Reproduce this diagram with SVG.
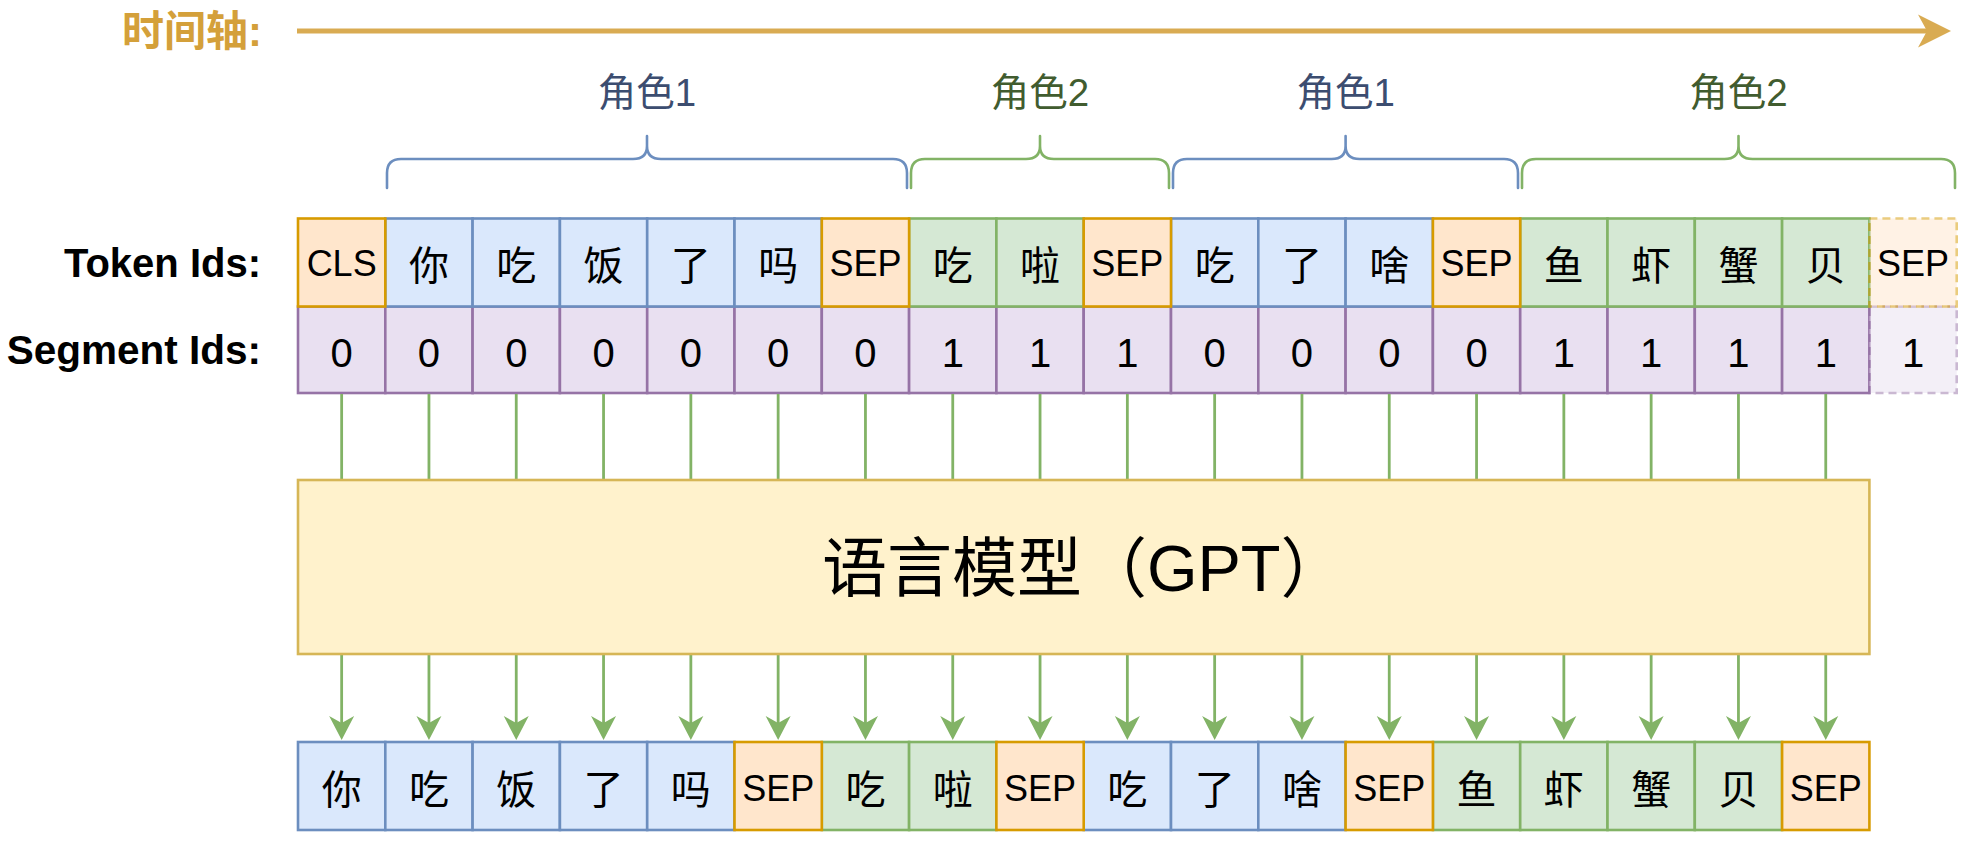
<svg xmlns="http://www.w3.org/2000/svg" width="1971" height="843" viewBox="0 0 1971 843">
<style>
text{font-family:'Liberation Sans','Noto Sans CJK SC',sans-serif;text-anchor:middle;fill:#000}
.b{fill:#dae8fc;stroke:#6c8ebf;stroke-width:2.6}
.g{fill:#d5e8d4;stroke:#82b366;stroke-width:2.6}
.o{fill:#ffe6cc;stroke:#d79b00;stroke-width:2.6}
.p{fill:#e9e0f1;stroke:#9673a6;stroke-width:2.6}
.dash{opacity:0.5}
.dash rect{stroke-dasharray:8 5}
.cj{font-size:40px}
.la{font-size:36px}
.dg{font-size:40px}
.lbl{font-size:40px;font-weight:bold;text-anchor:end}
.role{font-size:38.5px}
.br{fill:none;stroke-width:2.6;stroke-linecap:round}
.cn{stroke:#82b366;stroke-width:2.8;fill:none}
</style>
<defs>
<marker id="ah" markerUnits="userSpaceOnUse" markerWidth="25" markerHeight="26" viewBox="0 -13 25 26" refX="14" refY="0" orient="auto">
<path d="M24,0 L0,-12.5 L7,0 L0,12.5 Z" fill="#82b366"/>
</marker>
<marker id="tah" markerUnits="userSpaceOnUse" markerWidth="34" markerHeight="34" viewBox="0 -17 34 34" refX="17" refY="0" orient="auto">
<path d="M33,0 L0,-16.5 L9,0 L0,16.5 Z" fill="#d9ab52"/>
</marker>
</defs>

<g id="timeline">
<text x="262" y="46" style="font-size:42px;font-weight:bold;text-anchor:end;fill:#d4a03a">时间轴:</text>
<line x1="297" y1="31" x2="1935" y2="31" stroke="#d9ab52" stroke-width="5" marker-end="url(#tah)"/>
</g>

<g id="role-1a">
<text class="role" x="647" y="106" style="fill:#3c4d70">角色1</text>
<path class="br" stroke="#6c8ebf" d="M387,188 L387,173 Q387,159 401,159 L633,159 Q647,159 647,146 L647,136 M647,146 Q647,159 661,159 L893,159 Q907,159 907,173 L907,188"/>
</g>
<g id="role-2a">
<text class="role" x="1040" y="106" style="fill:#415c2f">角色2</text>
<path class="br" stroke="#82b366" d="M911,188 L911,173 Q911,159 925,159 L1026,159 Q1040,159 1040,146 L1040,136 M1040,146 Q1040,159 1054,159 L1155,159 Q1169,159 1169,173 L1169,188"/>
</g>
<g id="role-1b">
<text class="role" x="1345.6" y="106" style="fill:#3c4d70">角色1</text>
<path class="br" stroke="#6c8ebf" d="M1173,188 L1173,173 Q1173,159 1187,159 L1331.6,159 Q1345.6,159 1345.6,146 L1345.6,136 M1345.6,146 Q1345.6,159 1359.6,159 L1504,159 Q1518,159 1518,173 L1518,188"/>
</g>
<g id="role-2b">
<text class="role" x="1738.5" y="106" style="fill:#415c2f">角色2</text>
<path class="br" stroke="#82b366" d="M1522,188 L1522,173 Q1522,159 1536,159 L1724.5,159 Q1738.5,159 1738.5,146 L1738.5,136 M1738.5,146 Q1738.5,159 1752.5,159 L1941,159 Q1955,159 1955,173 L1955,188"/>
</g>

<g id="label-token"><text class="lbl" x="261" y="277">Token Ids:</text></g>
<g id="label-segment"><text class="lbl" x="261" y="364" style="font-size:40.5px">Segment Ids:</text></g>

<g id="segment-row">
<g id="seg-0"><rect class="p" x="298" y="306.5" width="87.3" height="86.5"/><text class="dg" x="341.65" y="366.5">0</text></g>
<g id="seg-1"><rect class="p" x="385.3" y="306.5" width="87.3" height="86.5"/><text class="dg" x="428.95" y="366.5">0</text></g>
<g id="seg-2"><rect class="p" x="472.6" y="306.5" width="87.3" height="86.5"/><text class="dg" x="516.25" y="366.5">0</text></g>
<g id="seg-3"><rect class="p" x="559.9" y="306.5" width="87.3" height="86.5"/><text class="dg" x="603.55" y="366.5">0</text></g>
<g id="seg-4"><rect class="p" x="647.2" y="306.5" width="87.3" height="86.5"/><text class="dg" x="690.85" y="366.5">0</text></g>
<g id="seg-5"><rect class="p" x="734.5" y="306.5" width="87.3" height="86.5"/><text class="dg" x="778.15" y="366.5">0</text></g>
<g id="seg-6"><rect class="p" x="821.8" y="306.5" width="87.3" height="86.5"/><text class="dg" x="865.45" y="366.5">0</text></g>
<g id="seg-7"><rect class="p" x="909.1" y="306.5" width="87.3" height="86.5"/><text class="dg" x="952.75" y="366.5">1</text></g>
<g id="seg-8"><rect class="p" x="996.4" y="306.5" width="87.3" height="86.5"/><text class="dg" x="1040.05" y="366.5">1</text></g>
<g id="seg-9"><rect class="p" x="1083.7" y="306.5" width="87.3" height="86.5"/><text class="dg" x="1127.35" y="366.5">1</text></g>
<g id="seg-10"><rect class="p" x="1171" y="306.5" width="87.3" height="86.5"/><text class="dg" x="1214.65" y="366.5">0</text></g>
<g id="seg-11"><rect class="p" x="1258.3" y="306.5" width="87.3" height="86.5"/><text class="dg" x="1301.95" y="366.5">0</text></g>
<g id="seg-12"><rect class="p" x="1345.6" y="306.5" width="87.3" height="86.5"/><text class="dg" x="1389.25" y="366.5">0</text></g>
<g id="seg-13"><rect class="p" x="1432.9" y="306.5" width="87.3" height="86.5"/><text class="dg" x="1476.55" y="366.5">0</text></g>
<g id="seg-14"><rect class="p" x="1520.2" y="306.5" width="87.3" height="86.5"/><text class="dg" x="1563.85" y="366.5">1</text></g>
<g id="seg-15"><rect class="p" x="1607.5" y="306.5" width="87.3" height="86.5"/><text class="dg" x="1651.15" y="366.5">1</text></g>
<g id="seg-16"><rect class="p" x="1694.8" y="306.5" width="87.3" height="86.5"/><text class="dg" x="1738.45" y="366.5">1</text></g>
<g id="seg-17"><rect class="p" x="1782.1" y="306.5" width="87.3" height="86.5"/><text class="dg" x="1825.75" y="366.5">1</text></g>
<g id="seg-18"><g class="dash"><rect class="p" x="1869.4" y="306.5" width="87.3" height="86.5"/></g><text class="dg" x="1913.05" y="366.5">1</text></g>
</g>

<g id="token-row">
<g id="tok-1"><rect class="b" x="385.3" y="218.5" width="87.3" height="88"/><text class="cj" x="428.95" y="280">你</text></g>
<g id="tok-2"><rect class="b" x="472.6" y="218.5" width="87.3" height="88"/><text class="cj" x="516.25" y="280">吃</text></g>
<g id="tok-3"><rect class="b" x="559.9" y="218.5" width="87.3" height="88"/><text class="cj" x="603.55" y="280">饭</text></g>
<g id="tok-4"><rect class="b" x="647.2" y="218.5" width="87.3" height="88"/><text class="cj" x="690.85" y="280">了</text></g>
<g id="tok-5"><rect class="b" x="734.5" y="218.5" width="87.3" height="88"/><text class="cj" x="778.15" y="280">吗</text></g>
<g id="tok-7"><rect class="g" x="909.1" y="218.5" width="87.3" height="88"/><text class="cj" x="952.75" y="280">吃</text></g>
<g id="tok-8"><rect class="g" x="996.4" y="218.5" width="87.3" height="88"/><text class="cj" x="1040.05" y="280">啦</text></g>
<g id="tok-10"><rect class="b" x="1171" y="218.5" width="87.3" height="88"/><text class="cj" x="1214.65" y="280">吃</text></g>
<g id="tok-11"><rect class="b" x="1258.3" y="218.5" width="87.3" height="88"/><text class="cj" x="1301.95" y="280">了</text></g>
<g id="tok-12"><rect class="b" x="1345.6" y="218.5" width="87.3" height="88"/><text class="cj" x="1389.25" y="280">啥</text></g>
<g id="tok-14"><rect class="g" x="1520.2" y="218.5" width="87.3" height="88"/><text class="cj" x="1563.85" y="280">鱼</text></g>
<g id="tok-15"><rect class="g" x="1607.5" y="218.5" width="87.3" height="88"/><text class="cj" x="1651.15" y="280">虾</text></g>
<g id="tok-16"><rect class="g" x="1694.8" y="218.5" width="87.3" height="88"/><text class="cj" x="1738.45" y="280">蟹</text></g>
<g id="tok-17"><rect class="g" x="1782.1" y="218.5" width="87.3" height="88"/><text class="cj" x="1825.75" y="280">贝</text></g>
<g id="tok-0"><rect class="o" x="298" y="218.5" width="87.3" height="88"/><text class="la" x="341.65" y="276">CLS</text></g>
<g id="tok-6"><rect class="o" x="821.8" y="218.5" width="87.3" height="88"/><text class="la" x="865.45" y="276">SEP</text></g>
<g id="tok-9"><rect class="o" x="1083.7" y="218.5" width="87.3" height="88"/><text class="la" x="1127.35" y="276">SEP</text></g>
<g id="tok-13"><rect class="o" x="1432.9" y="218.5" width="87.3" height="88"/><text class="la" x="1476.55" y="276">SEP</text></g>
<g id="tok-18"><g class="dash"><rect class="o" x="1869.4" y="218.5" width="87.3" height="88"/></g><text class="la" x="1913.05" y="276">SEP</text></g>
</g>

<g id="connectors">
<g id="in-lines" class="cn">
<line x1="341.65" y1="394" x2="341.65" y2="480"/>
<line x1="428.95" y1="394" x2="428.95" y2="480"/>
<line x1="516.25" y1="394" x2="516.25" y2="480"/>
<line x1="603.55" y1="394" x2="603.55" y2="480"/>
<line x1="690.85" y1="394" x2="690.85" y2="480"/>
<line x1="778.15" y1="394" x2="778.15" y2="480"/>
<line x1="865.45" y1="394" x2="865.45" y2="480"/>
<line x1="952.75" y1="394" x2="952.75" y2="480"/>
<line x1="1040.05" y1="394" x2="1040.05" y2="480"/>
<line x1="1127.35" y1="394" x2="1127.35" y2="480"/>
<line x1="1214.65" y1="394" x2="1214.65" y2="480"/>
<line x1="1301.95" y1="394" x2="1301.95" y2="480"/>
<line x1="1389.25" y1="394" x2="1389.25" y2="480"/>
<line x1="1476.55" y1="394" x2="1476.55" y2="480"/>
<line x1="1563.85" y1="394" x2="1563.85" y2="480"/>
<line x1="1651.15" y1="394" x2="1651.15" y2="480"/>
<line x1="1738.45" y1="394" x2="1738.45" y2="480"/>
<line x1="1825.75" y1="394" x2="1825.75" y2="480"/>
</g>
<g id="out-arrows" class="cn">
<line x1="341.65" y1="655" x2="341.65" y2="730" marker-end="url(#ah)"/>
<line x1="428.95" y1="655" x2="428.95" y2="730" marker-end="url(#ah)"/>
<line x1="516.25" y1="655" x2="516.25" y2="730" marker-end="url(#ah)"/>
<line x1="603.55" y1="655" x2="603.55" y2="730" marker-end="url(#ah)"/>
<line x1="690.85" y1="655" x2="690.85" y2="730" marker-end="url(#ah)"/>
<line x1="778.15" y1="655" x2="778.15" y2="730" marker-end="url(#ah)"/>
<line x1="865.45" y1="655" x2="865.45" y2="730" marker-end="url(#ah)"/>
<line x1="952.75" y1="655" x2="952.75" y2="730" marker-end="url(#ah)"/>
<line x1="1040.05" y1="655" x2="1040.05" y2="730" marker-end="url(#ah)"/>
<line x1="1127.35" y1="655" x2="1127.35" y2="730" marker-end="url(#ah)"/>
<line x1="1214.65" y1="655" x2="1214.65" y2="730" marker-end="url(#ah)"/>
<line x1="1301.95" y1="655" x2="1301.95" y2="730" marker-end="url(#ah)"/>
<line x1="1389.25" y1="655" x2="1389.25" y2="730" marker-end="url(#ah)"/>
<line x1="1476.55" y1="655" x2="1476.55" y2="730" marker-end="url(#ah)"/>
<line x1="1563.85" y1="655" x2="1563.85" y2="730" marker-end="url(#ah)"/>
<line x1="1651.15" y1="655" x2="1651.15" y2="730" marker-end="url(#ah)"/>
<line x1="1738.45" y1="655" x2="1738.45" y2="730" marker-end="url(#ah)"/>
<line x1="1825.75" y1="655" x2="1825.75" y2="730" marker-end="url(#ah)"/>
</g>
</g>

<g id="gpt">
<rect x="298" y="480" width="1571.4" height="174" fill="#fff2cc" stroke="#d6b656" stroke-width="2.6"/>
<text x="1083.7" y="591" style="font-size:65px">语言模型（GPT）</text>
</g>

<g id="output-row">
<g id="out-0"><rect class="b" x="298" y="742" width="87.3" height="88"/><text class="cj" x="341.65" y="803.5">你</text></g>
<g id="out-1"><rect class="b" x="385.3" y="742" width="87.3" height="88"/><text class="cj" x="428.95" y="803.5">吃</text></g>
<g id="out-2"><rect class="b" x="472.6" y="742" width="87.3" height="88"/><text class="cj" x="516.25" y="803.5">饭</text></g>
<g id="out-3"><rect class="b" x="559.9" y="742" width="87.3" height="88"/><text class="cj" x="603.55" y="803.5">了</text></g>
<g id="out-4"><rect class="b" x="647.2" y="742" width="87.3" height="88"/><text class="cj" x="690.85" y="803.5">吗</text></g>
<g id="out-6"><rect class="g" x="821.8" y="742" width="87.3" height="88"/><text class="cj" x="865.45" y="803.5">吃</text></g>
<g id="out-7"><rect class="g" x="909.1" y="742" width="87.3" height="88"/><text class="cj" x="952.75" y="803.5">啦</text></g>
<g id="out-9"><rect class="b" x="1083.7" y="742" width="87.3" height="88"/><text class="cj" x="1127.35" y="803.5">吃</text></g>
<g id="out-10"><rect class="b" x="1171" y="742" width="87.3" height="88"/><text class="cj" x="1214.65" y="803.5">了</text></g>
<g id="out-11"><rect class="b" x="1258.3" y="742" width="87.3" height="88"/><text class="cj" x="1301.95" y="803.5">啥</text></g>
<g id="out-13"><rect class="g" x="1432.9" y="742" width="87.3" height="88"/><text class="cj" x="1476.55" y="803.5">鱼</text></g>
<g id="out-14"><rect class="g" x="1520.2" y="742" width="87.3" height="88"/><text class="cj" x="1563.85" y="803.5">虾</text></g>
<g id="out-15"><rect class="g" x="1607.5" y="742" width="87.3" height="88"/><text class="cj" x="1651.15" y="803.5">蟹</text></g>
<g id="out-16"><rect class="g" x="1694.8" y="742" width="87.3" height="88"/><text class="cj" x="1738.45" y="803.5">贝</text></g>
<g id="out-5"><rect class="o" x="734.5" y="742" width="87.3" height="88"/><text class="la" x="778.15" y="800.5">SEP</text></g>
<g id="out-8"><rect class="o" x="996.4" y="742" width="87.3" height="88"/><text class="la" x="1040.05" y="800.5">SEP</text></g>
<g id="out-12"><rect class="o" x="1345.6" y="742" width="87.3" height="88"/><text class="la" x="1389.25" y="800.5">SEP</text></g>
<g id="out-17"><rect class="o" x="1782.1" y="742" width="87.3" height="88"/><text class="la" x="1825.75" y="800.5">SEP</text></g>
</g>
</svg>
